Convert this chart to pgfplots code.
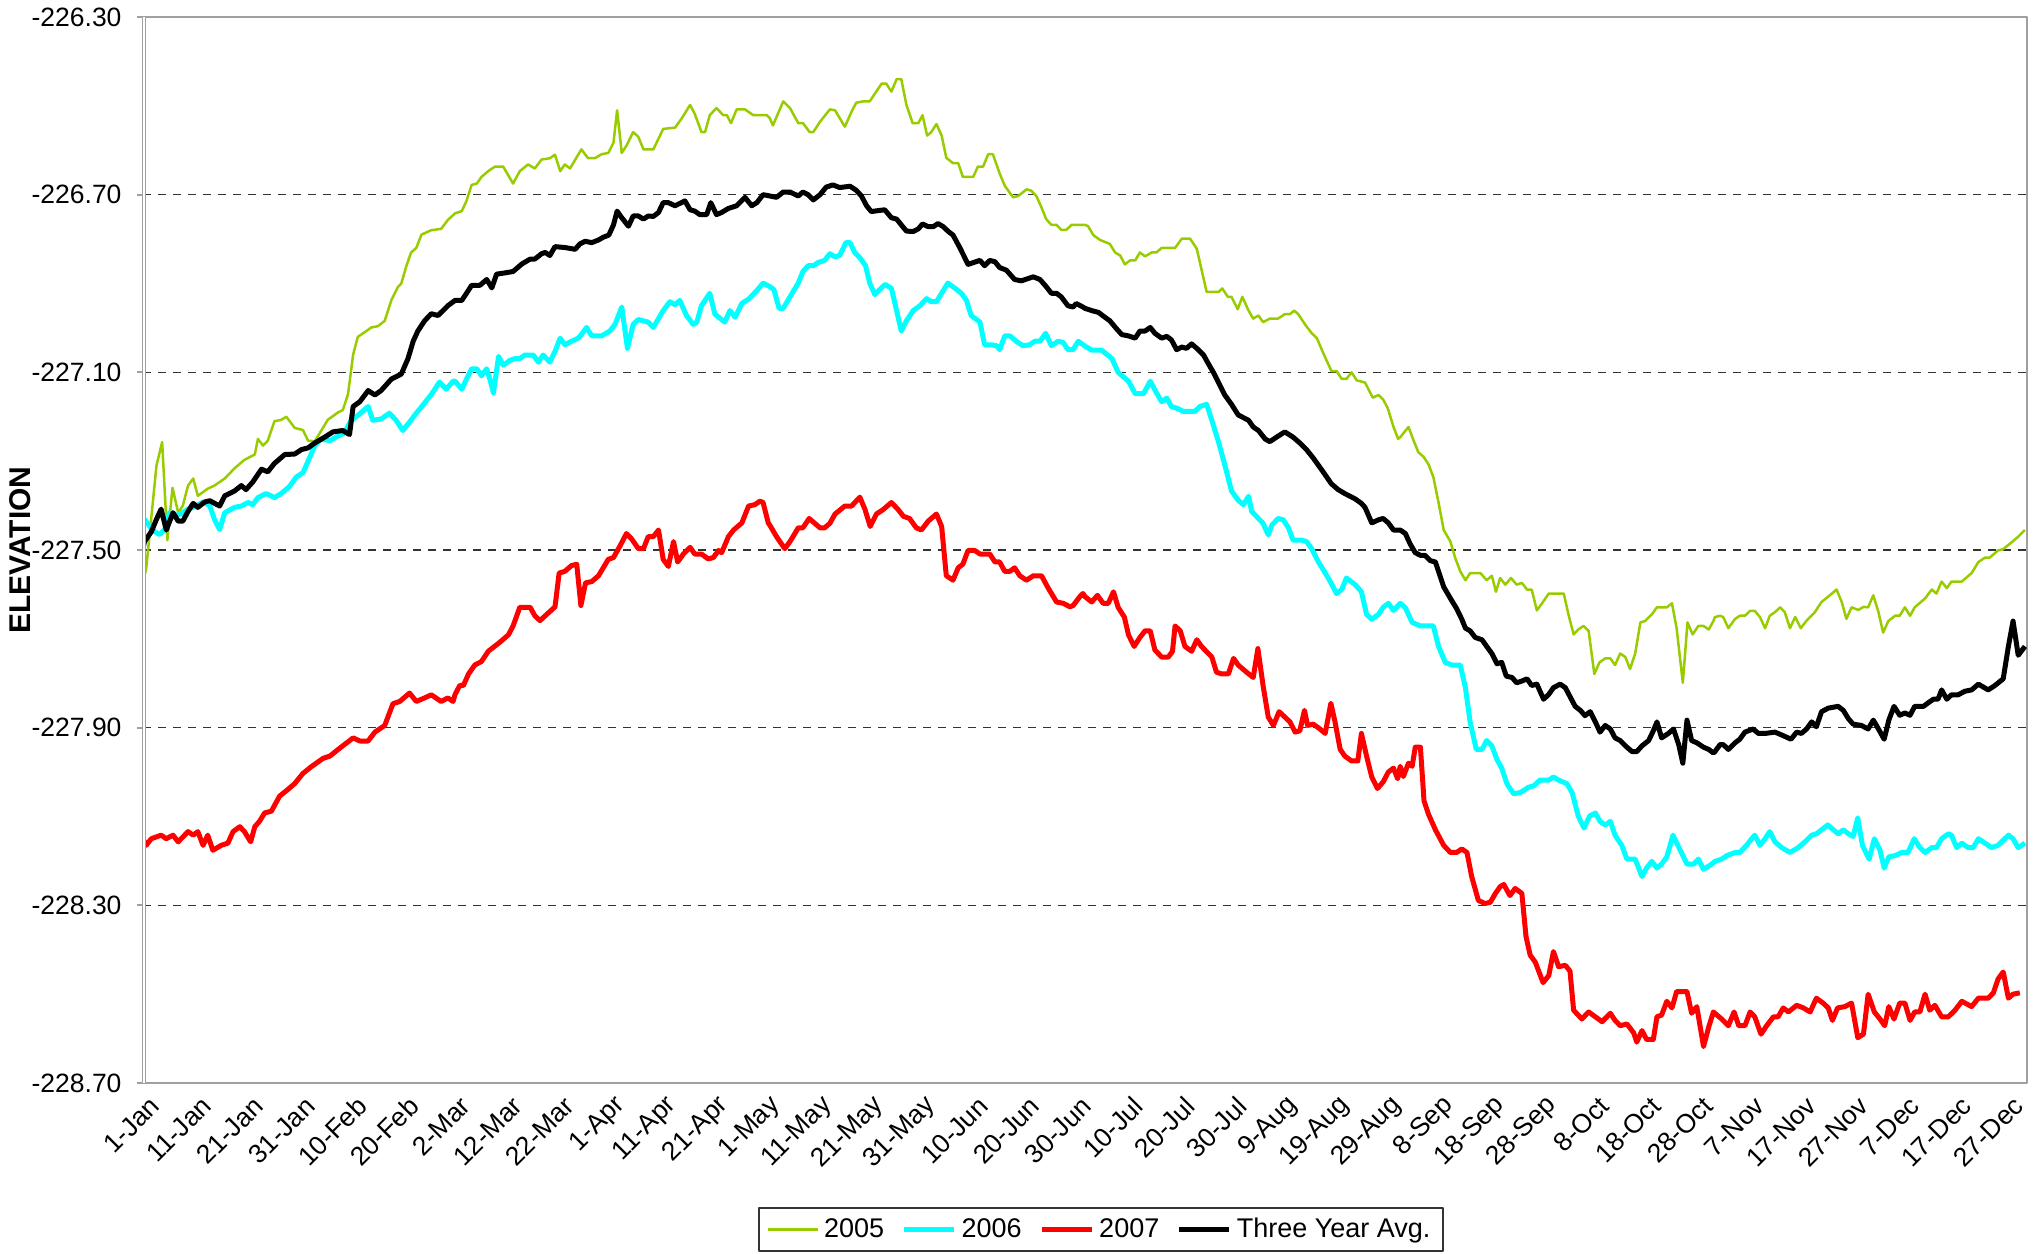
\documentclass[border=0pt]{standalone}
\usepackage{fontspec}
\setmainfont{Liberation Sans}
\usepackage{pgfplots}
\pgfplotsset{compat=1.18}
\definecolor{c2005}{RGB}{153,204,0}
\definecolor{c2006}{RGB}{0,255,255}
\definecolor{c2007}{RGB}{255,0,0}
\definecolor{framegray}{RGB}{160,160,160}
\begin{document}
\begin{tikzpicture}
\useasboundingbox (-57.2pt,-68pt) rectangle (758pt,433.2pt);
\begin{axis}[
  at={(0pt,0pt)}, anchor=south west,
  scale only axis, width=753.6pt, height=426.4pt,
  xmin=1, xmax=365, ymin=-228.7, ymax=-226.3,
  axis line style={draw=framegray, line width=0.9pt},
  xtick={1,11,...,361},
  xticklabels={1-Jan,11-Jan,21-Jan,31-Jan,10-Feb,20-Feb,2-Mar,12-Mar,22-Mar,1-Apr,11-Apr,21-Apr,1-May,11-May,21-May,31-May,10-Jun,20-Jun,30-Jun,10-Jul,20-Jul,30-Jul,9-Aug,19-Aug,29-Aug,8-Sep,18-Sep,28-Sep,8-Oct,18-Oct,28-Oct,7-Nov,17-Nov,27-Nov,7-Dec,17-Dec,27-Dec},
  ytick={-228.7,-228.3,-227.9,-227.5,-227.1,-226.7,-226.3},
  yticklabels={-228.70,-228.30,-227.90,-227.50,-227.10,-226.70,-226.30},
  ymajorgrids,
  grid style={black!80, dash pattern=on 3.2pt off 2.8pt, line width=0.45pt},
  tick align=outside,
  ytick pos=left, xtick pos=bottom,
  major tick length=2.4pt,
  ytick style={draw=framegray, line width=0.8pt},
  xtick style={draw=none},
  tick label style={font=\fontsize{10.6}{12}\selectfont},
  yticklabel style={anchor=east, inner sep=0pt, xshift=-6pt},
  xticklabel style={rotate=45, anchor=east, inner sep=0pt, yshift=-7pt},
  ylabel={\bfseries ELEVATION},
  every axis y label/.style={at={(axis description cs:-0.0653,0.5)}, rotate=90, anchor=center, font=\fontsize{12}{14}\selectfont},
  legend columns=4,
  legend style={at={(0.5085,-0.1374)}, anchor=center, draw=black!80, line width=0.6pt,
    font=\fontsize{10.8}{13}\selectfont, inner xsep=3pt, inner ysep=2pt,
    /tikz/every even column/.append style={column sep=5pt}},
  legend image code/.code={\draw[#1] (0pt,0pt) -- (20pt,0pt);},
  line join=round,
]
\addplot[c2005, line width=1pt] coordinates {
(1,-227.57)(1.6,-227.543)(2.6,-227.428)(3.6,-227.31)(4.7,-227.257)(5.7,-227.478)(6.7,-227.36)(7.8,-227.416)(8.7,-227.40)(9.7,-227.355)(10.7,-227.339)(11.6,-227.378)(13.5,-227.362)(14.8,-227.355)(16.8,-227.339)(18.7,-227.316)(20.6,-227.297)(22.6,-227.285)(23.2,-227.25)(24.2,-227.265)(25.1,-227.254)(26.4,-227.21)(27.7,-227.207)(28.7,-227.20)(30.3,-227.225)(31.9,-227.23)(32.9,-227.254)(34.2,-227.255)(36.7,-227.207)(38.7,-227.19)(39.6,-227.185)(40.6,-227.15)(41.6,-227.06)(42.5,-227.02)(43.8,-227.01)(45.1,-226.999)(46.4,-226.996)(47.7,-226.984)(49,-226.937)(50.3,-226.907)(50.9,-226.90)(51.9,-226.86)(52.8,-226.83)(53.8,-226.82)(54.8,-226.79)(56.7,-226.78)(58.6,-226.777)(59.9,-226.757)
(61.3,-226.742)(62.6,-226.737)(63.5,-226.714)(64.5,-226.678)(65.5,-226.675)(66.4,-226.66)(67.7,-226.647)(69,-226.637)(70.6,-226.637)(71.6,-226.657)(72.5,-226.675)(73.8,-226.647)(75.4,-226.632)(76.7,-226.641)(78,-226.621)(79.6,-226.618)(80.6,-226.61)(81.6,-226.647)(82.5,-226.632)(83.5,-226.641)(85.7,-226.598)(87,-226.618)(88.3,-226.618)(89.6,-226.609)(90.9,-226.606)(91.9,-226.583)(92.6,-226.51)(93.5,-226.606)(94.4,-226.59)(95.7,-226.559)(96.7,-226.57)(97.7,-226.598)(99.6,-226.598)(101.5,-226.552)(103.8,-226.549)(105.1,-226.528)(106.7,-226.498)(107.6,-226.518)(108.9,-226.559)(109.6,-226.559)(110.5,-226.521)(111.8,-226.505)(113.1,-226.521)(113.8,-226.521)(114.6,-226.539)(115.7,-226.508)(117.3,-226.508)(118.9,-226.521)(121.5,-226.521)
(122.1,-226.528)(122.7,-226.544)(124.7,-226.49)(126,-226.505)(127.6,-226.539)(128.5,-226.539)(129.8,-226.559)(130.5,-226.559)(131.8,-226.536)(133.7,-226.508)(134.7,-226.51)(136.6,-226.547)(137.9,-226.513)(138.8,-226.493)(140.1,-226.49)(141.4,-226.49)(143.7,-226.45)(144.6,-226.45)(145.6,-226.468)(146.6,-226.44)(147.5,-226.44)(148.5,-226.498)(149.7,-226.539)(150.8,-226.539)(151.6,-226.521)(152.5,-226.567)(153.3,-226.559)(154.3,-226.541)(155.3,-226.567)(156.2,-226.617)(157.5,-226.629)(158.5,-226.629)(159.4,-226.66)(161.4,-226.66)(162.3,-226.637)(163.3,-226.637)(164.3,-226.609)(165.2,-226.609)(166.5,-226.652)(167.5,-226.68)(169.1,-226.706)(170.1,-226.703)(171.7,-226.688)(172.6,-226.691)(173.6,-226.703)(174.6,-226.729)(175.5,-226.755)(176.5,-226.768)(177.5,-226.768)(178.4,-226.779)(179.4,-226.779)(180.4,-226.768)(182.6,-226.768)
(183,-226.768)(183.6,-226.771)(184.6,-226.791)(185.9,-226.802)(187.2,-226.808)(187.8,-226.811)(188.8,-226.83)(189.8,-226.837)(190.7,-226.857)(191.7,-226.848)(192.7,-226.848)(193.6,-226.83)(194.6,-226.839)(195.9,-226.83)(196.8,-226.83)(197.8,-226.82)(200.4,-226.82)(201.7,-226.799)(203.3,-226.799)(204.6,-226.822)(205.5,-226.868)(206.5,-226.919)(207.5,-226.919)(208.8,-226.919)(209.5,-226.911)(210.6,-226.93)(211.3,-226.93)(212.5,-226.958)(213.4,-226.93)(214.6,-226.961)(215.5,-226.979)(216.5,-226.972)(217.4,-226.987)(218.7,-226.979)(220.3,-226.979)(221.6,-226.969)(222.6,-226.969)(223.4,-226.961)(224.2,-226.969)(225.5,-226.992)(226.8,-227.012)(227.8,-227.023)(229,-227.056)(230.6,-227.097)(231.6,-227.097)(232.6,-227.115)(233.5,-227.115)(234.5,-227.1)(235.5,-227.118)(237.1,-227.123)(238.6,-227.157)(239.7,-227.151)(240.6,-227.161)(241.5,-227.181)(242.6,-227.223)(243.5,-227.25)
(243.9,-227.246)(245.5,-227.223)(246.5,-227.254)(247.4,-227.28)(248.4,-227.29)(249.4,-227.308)(250.3,-227.336)(251.3,-227.393)(252.3,-227.455)(253.6,-227.481)(254.5,-227.517)(255.5,-227.548)(256.5,-227.568)(257.4,-227.552)(259.4,-227.552)(260.6,-227.568)(261.6,-227.558)(262.4,-227.594)(263.2,-227.563)(264.2,-227.578)(265.3,-227.563)(266.4,-227.578)(267.4,-227.574)(268.4,-227.589)(269.3,-227.589)(270.3,-227.636)(271.3,-227.62)(272.6,-227.598)(275.5,-227.598)(276.4,-227.645)(277.4,-227.69)(278.3,-227.679)(279.3,-227.671)(280.3,-227.682)(281.4,-227.779)(282.4,-227.753)(283.5,-227.744)(284.5,-227.744)(285.4,-227.759)(286.4,-227.733)(287.4,-227.741)(288.3,-227.768)(289.3,-227.733)(290.3,-227.663)(291.2,-227.66)(292.5,-227.645)(293.5,-227.629)(295.4,-227.629)(296.4,-227.62)(297.3,-227.676)(298.5,-227.799)(299.4,-227.663)(300.4,-227.69)(301.5,-227.671)(302.5,-227.671)(303.5,-227.679)(304.4,-227.66)
(304.7,-227.651)(305.7,-227.648)(306.3,-227.651)(307.3,-227.676)(308.6,-227.655)(309.5,-227.648)(310.5,-227.648)(311.5,-227.637)(312.4,-227.637)(313.4,-227.651)(314.4,-227.676)(315.3,-227.648)(316.3,-227.64)(317.3,-227.629)(318.2,-227.64)(319.2,-227.676)(320.2,-227.651)(321.3,-227.676)(322.4,-227.659)(324,-227.64)(325.3,-227.617)(326.9,-227.602)(328.2,-227.589)(329.2,-227.617)(330.1,-227.655)(331.1,-227.629)(332.4,-227.635)(333.4,-227.628)(334.3,-227.629)(335.3,-227.602)(336.3,-227.64)(337.2,-227.686)(338.2,-227.66)(339.5,-227.648)(340.4,-227.648)(341.4,-227.629)(342.4,-227.648)(343.3,-227.629)(345.3,-227.609)(346.6,-227.589)(347.5,-227.598)(348.5,-227.571)(349.5,-227.586)(350.4,-227.571)(352.4,-227.571)(354.3,-227.552)(355.6,-227.527)(356.9,-227.517)(357.8,-227.517)(359.4,-227.501)(360.4,-227.498)(362,-227.483)(363.3,-227.47)(364.6,-227.455)
};
\addlegendentry{2005}
\addplot[c2006, line width=2pt] coordinates {
(1,-227.447)(1.3,-227.431)(2.3,-227.447)(3.3,-227.459)(4.2,-227.465)(5.2,-227.454)(6.1,-227.416)(7.1,-227.423)(8.4,-227.418)(9.7,-227.408)(10.9,-227.403)(12.6,-227.392)(13.9,-227.4)(14.8,-227.431)(15.8,-227.454)(16.8,-227.416)(18.7,-227.404)(20,-227.401)(21.3,-227.393)(22.2,-227.398)(23.2,-227.382)(24.8,-227.373)(26.4,-227.382)(27.7,-227.373)(29.3,-227.357)(30.6,-227.336)(31.9,-227.326)(32.9,-227.3)(34.2,-227.265)(35.4,-227.25)(37.1,-227.254)(38.7,-227.243)(39.9,-227.237)(41.2,-227.208)(42.5,-227.197)(44.5,-227.177)(45.4,-227.208)(47,-227.205)(48.6,-227.192)(49.9,-227.208)(51.2,-227.231)(52.5,-227.212)(53.8,-227.192)(55.4,-227.169)(56.7,-227.15)(58.3,-227.122)(59.6,-227.138)(60.9,-227.12)
(61.3,-227.12)(62.6,-227.138)(63.5,-227.115)(64.5,-227.092)(65.5,-227.092)(66.4,-227.108)(67.4,-227.092)(68,-227.115)(68.7,-227.146)(69.7,-227.064)(70.6,-227.084)(71.9,-227.073)(72.9,-227.069)(73.8,-227.069)(74.8,-227.061)(76.4,-227.061)(77.4,-227.077)(78.3,-227.061)(79.6,-227.077)(80.6,-227.053)(81.6,-227.023)(82.5,-227.038)(83.8,-227.03)(85.1,-227.023)(85.7,-227.015)(86.7,-226.999)(87.7,-227.018)(89.6,-227.018)(91.2,-227.007)(92.2,-226.992)(93.5,-226.953)(94.6,-227.046)(95.7,-226.992)(96.7,-226.981)(98.6,-226.987)(99.6,-226.999)(101.5,-226.961)(102.8,-226.941)(103.8,-226.948)(104.7,-226.938)(106,-226.972)(107.3,-226.992)(108,-226.987)(108.9,-226.95)(110.5,-226.922)(111.5,-226.969)(113.4,-226.987)(114.4,-226.961)(115.4,-226.976)(116.7,-226.945)(118,-226.935)(119.6,-226.916)(120.8,-226.899)
(122.1,-226.907)(122.9,-226.914)(123.9,-226.956)(124.7,-226.956)(126,-226.93)(127.6,-226.899)(128.5,-226.873)(129.5,-226.86)(130.5,-226.86)(131.4,-226.853)(132.7,-226.848)(133.7,-226.833)(134.7,-226.84)(135.6,-226.837)(136.8,-226.808)(137.6,-226.808)(138.5,-226.83)(139.5,-226.842)(140.6,-226.86)(141.4,-226.899)(142.4,-226.925)(143.3,-226.914)(144.4,-226.902)(145.6,-226.911)(146.6,-226.961)(147.5,-227.007)(148.5,-226.984)(149.8,-226.961)(151.1,-226.95)(152.4,-226.934)(153.3,-226.941)(154.3,-226.941)(155.3,-226.922)(156.5,-226.899)(157.8,-226.91)(159.1,-226.922)(160.1,-226.938)(161,-226.972)(162.7,-226.987)(163.6,-227.038)(164.9,-227.038)(165.9,-227.04)(166.5,-227.049)(167.5,-227.018)(168.5,-227.018)(169.7,-227.03)(171,-227.04)(172.3,-227.038)(173.3,-227.03)(174.3,-227.03)(175.4,-227.012)(176.5,-227.04)(177.8,-227.03)(178.8,-227.033)(179.7,-227.049)(180.7,-227.049)(181.7,-227.03)
(183,-227.041)(184.3,-227.05)(186.2,-227.05)(188.2,-227.069)(189.4,-227.1)(191.4,-227.12)(192.7,-227.148)(194.3,-227.148)(195.6,-227.12)(196.8,-227.146)(197.8,-227.166)(198.8,-227.158)(199.7,-227.177)(201,-227.182)(202,-227.188)(204.2,-227.188)(205.2,-227.177)(206.5,-227.172)(207.5,-227.208)(208.8,-227.257)(210,-227.308)(211.3,-227.367)(212.6,-227.388)(213.6,-227.398)(214.6,-227.379)(215.2,-227.413)(216.5,-227.429)(217.4,-227.44)(218.4,-227.466)(219.1,-227.444)(220.3,-227.429)(221.3,-227.432)(222.3,-227.45)(223.2,-227.478)(224.9,-227.478)(225.8,-227.481)(226.8,-227.497)(228.1,-227.527)(230,-227.563)(231.6,-227.598)(232.6,-227.589)(233.5,-227.563)(235.2,-227.578)(236.4,-227.594)(237.4,-227.645)(238.4,-227.656)(239.7,-227.645)(240.6,-227.629)(241.6,-227.62)(242.6,-227.636)
(243.9,-227.62)(244.9,-227.63)(246.2,-227.663)(247.8,-227.671)(250.3,-227.671)(251.3,-227.717)(252.6,-227.753)(253.9,-227.759)(255.5,-227.759)(256.5,-227.81)(257.4,-227.887)(258.6,-227.949)(259.7,-227.949)(260.6,-227.929)(261.6,-227.941)(262.6,-227.972)(263.5,-227.991)(264.5,-228.026)(265.8,-228.049)(267.1,-228.046)(268.7,-228.034)(269.7,-228.031)(270.9,-228.018)(272.6,-228.018)(273.5,-228.011)(274.5,-228.018)(276.1,-228.026)(277.1,-228.046)(278.3,-228.099)(279.4,-228.126)(280.5,-228.099)(281.6,-228.092)(282.5,-228.111)(283.5,-228.119)(284.5,-228.111)(285.4,-228.142)(286.7,-228.165)(287.7,-228.196)(289.3,-228.196)(290.6,-228.235)(291.5,-228.216)(292.5,-228.201)(293.5,-228.216)(294.4,-228.207)(295.4,-228.191)(296.6,-228.142)(298,-228.176)(299.3,-228.207)(300.6,-228.207)(301.5,-228.196)(302.5,-228.219)(304.1,-228.207)
(304.7,-228.201)(306,-228.196)(307,-228.188)(308.6,-228.181)(309.5,-228.181)(310.8,-228.165)(311.8,-228.15)(312.4,-228.142)(313.4,-228.165)(314.4,-228.15)(315.3,-228.134)(316.3,-228.157)(317.6,-228.17)(319.2,-228.181)(320.8,-228.17)(322.1,-228.157)(323.4,-228.142)(324.3,-228.139)(325.3,-228.13)(326.5,-228.119)(327.6,-228.13)(328.5,-228.139)(329.5,-228.13)(330.5,-228.139)(331.4,-228.145)(332.3,-228.103)(333.2,-228.165)(334.5,-228.196)(335.5,-228.15)(336.6,-228.176)(337.4,-228.216)(338.3,-228.191)(339.5,-228.188)(340.8,-228.181)(342,-228.181)(343.2,-228.15)(344.3,-228.17)(345.3,-228.181)(346.6,-228.17)(347.5,-228.17)(348.5,-228.15)(349.8,-228.139)(350.4,-228.142)(351.4,-228.17)(352.4,-228.16)(353.6,-228.17)(354.6,-228.17)(355.6,-228.15)(356.9,-228.16)(358.1,-228.17)(359.4,-228.165)(361.4,-228.142)(362.3,-228.15)(363.3,-228.17)(364.6,-228.16)
};
\addlegendentry{2006}
\addplot[c2007, line width=2pt] coordinates {
(1,-228.15)(1.6,-228.165)(2.6,-228.15)(4.5,-228.142)(5.5,-228.15)(6.8,-228.142)(7.8,-228.157)(9.7,-228.134)(10.7,-228.142)(11.6,-228.134)(12.6,-228.165)(13.5,-228.142)(14.5,-228.176)(16.1,-228.165)(17.4,-228.16)(18.4,-228.134)(19.7,-228.123)(20.6,-228.134)(21.8,-228.157)(22.6,-228.123)(23.5,-228.111)(24.5,-228.092)(25.8,-228.088)(27.4,-228.054)(28.7,-228.042)(30.3,-228.026)(31.9,-228.003)(33.5,-227.988)(35.8,-227.969)(37.1,-227.964)(38.7,-227.949)(41.6,-227.923)(42.9,-227.93)(44.5,-227.93)(45.8,-227.91)(47.7,-227.895)(49.3,-227.846)(50.6,-227.841)(52.5,-227.822)(53.8,-227.841)(55.4,-227.833)(56.7,-227.826)(58.6,-227.841)(59.9,-227.833)(60.9,-227.841)
(61.3,-227.825)(62.2,-227.805)(62.9,-227.805)(63.9,-227.779)(65.1,-227.759)(66.4,-227.751)(67.7,-227.728)(69.7,-227.71)(71.6,-227.691)(72.5,-227.671)(73.8,-227.629)(75.8,-227.629)(76.7,-227.648)(77.7,-227.659)(79,-227.645)(80.6,-227.628)(81.4,-227.552)(82.5,-227.548)(83.8,-227.535)(84.8,-227.532)(85.6,-227.625)(86.5,-227.574)(87.7,-227.571)(89,-227.558)(90.9,-227.521)(91.9,-227.517)(93.2,-227.49)(94.4,-227.463)(95.4,-227.475)(96.7,-227.497)(97.7,-227.497)(98.6,-227.47)(99.6,-227.47)(100.6,-227.455)(101.5,-227.521)(102.5,-227.537)(103.5,-227.481)(104.3,-227.527)(105.4,-227.509)(106.7,-227.494)(107.6,-227.509)(108.9,-227.509)(110.2,-227.52)(111.2,-227.517)(112.2,-227.501)(112.8,-227.506)(114.1,-227.47)(115.1,-227.455)(116.7,-227.439)(118,-227.401)(119.2,-227.398)(120.2,-227.39)(120.8,-227.393)(121.8,-227.439)
(122.1,-227.444)(123.4,-227.47)(125,-227.497)(126,-227.481)(127.6,-227.45)(128.5,-227.45)(129.7,-227.429)(130.8,-227.44)(131.8,-227.45)(132.7,-227.45)(133.7,-227.44)(134.7,-227.419)(136.6,-227.401)(137.9,-227.401)(139.5,-227.381)(140.5,-227.409)(141.5,-227.447)(142.7,-227.419)(144,-227.409)(145.6,-227.393)(146.9,-227.409)(147.9,-227.424)(149.1,-227.429)(150.4,-227.45)(151.4,-227.455)(152.7,-227.435)(154.3,-227.419)(155.3,-227.447)(156.2,-227.558)(157.5,-227.568)(158.5,-227.54)(159.4,-227.532)(160.4,-227.501)(161.7,-227.501)(162.7,-227.509)(164.6,-227.509)(165.6,-227.527)(166.5,-227.527)(167.5,-227.548)(168.5,-227.548)(169.4,-227.54)(170.4,-227.558)(171.7,-227.568)(173,-227.558)(174.6,-227.558)(175.9,-227.586)(177.5,-227.617)(178.8,-227.62)(180.1,-227.628)(180.7,-227.625)(182,-227.605)(182.6,-227.598)
(183,-227.605)(184.3,-227.617)(185.4,-227.602)(186.5,-227.62)(187.5,-227.62)(188.5,-227.594)(189.4,-227.629)(190.6,-227.651)(191.4,-227.691)(192.5,-227.717)(193.6,-227.697)(194.6,-227.682)(195.6,-227.682)(196.5,-227.725)(197.8,-227.741)(199.1,-227.741)(199.9,-227.728)(200.4,-227.671)(201.4,-227.682)(202.3,-227.717)(203.6,-227.728)(204.6,-227.702)(205.5,-227.717)(207.5,-227.741)(208.4,-227.775)(209.4,-227.779)(210.7,-227.779)(211.7,-227.744)(212.6,-227.759)(214.2,-227.775)(215.5,-227.787)(216.4,-227.722)(217.4,-227.805)(218.4,-227.876)(219.4,-227.895)(220.5,-227.864)(221.6,-227.876)(222.6,-227.887)(223.6,-227.91)(224.5,-227.907)(225.4,-227.861)(226,-227.895)(227.1,-227.892)(228.4,-227.903)(229.4,-227.913)(230.5,-227.845)(231.3,-227.887)(232.3,-227.949)(233.2,-227.964)(234.5,-227.975)(235.7,-227.975)(236.4,-227.913)(237.4,-227.964)(238.4,-228.011)(239.5,-228.037)(240.6,-228.022)(241.6,-228.0)(242.6,-227.991)(243.4,-228.015)
(243.9,-227.987)(244.5,-228.01)(245.5,-227.98)(246.2,-227.987)(246.8,-227.944)(247.8,-227.944)(248.5,-228.065)(249.4,-228.096)(250.7,-228.13)(252.3,-228.165)(253.6,-228.181)(254.8,-228.181)(255.8,-228.173)(256.8,-228.181)(257.7,-228.235)(259,-228.289)(260.3,-228.296)(261.3,-228.293)(262.3,-228.273)(263.2,-228.258)(263.9,-228.253)(265.1,-228.278)(266.1,-228.262)(267.4,-228.273)(268.2,-228.37)(269,-228.412)(270,-228.428)(271.5,-228.474)(272.6,-228.458)(273.5,-228.404)(274.5,-228.438)(275.8,-228.435)(276.7,-228.448)(277.4,-228.536)(279,-228.556)(280.3,-228.54)(281.6,-228.551)(282.9,-228.562)(284.5,-228.543)(285.4,-228.559)(286.4,-228.571)(287.7,-228.567)(289,-228.587)(289.6,-228.608)(290.6,-228.582)(291.5,-228.602)(292.8,-228.602)(293.5,-228.551)(294.4,-228.547)(295.4,-228.516)(296.4,-228.531)(297.3,-228.494)(299.3,-228.494)(300.2,-228.543)(301.2,-228.528)(302.5,-228.618)(303.5,-228.574)(304.4,-228.54)
(304.7,-228.543)(306,-228.556)(307.3,-228.571)(308.4,-228.54)(309.3,-228.571)(310.5,-228.571)(311.5,-228.54)(312.4,-228.551)(313.6,-228.59)(314.7,-228.571)(316,-228.551)(316.9,-228.551)(317.9,-228.531)(318.9,-228.54)(320.5,-228.525)(321.8,-228.531)(323.1,-228.54)(324.3,-228.509)(325.6,-228.52)(326.6,-228.531)(327.4,-228.559)(328.4,-228.531)(329.8,-228.528)(331.1,-228.52)(332.3,-228.598)(333.4,-228.59)(334.3,-228.5)(335.5,-228.54)(336.6,-228.556)(337.5,-228.571)(338.3,-228.528)(339.3,-228.556)(340.4,-228.52)(341.4,-228.52)(342.4,-228.559)(343.3,-228.54)(344.3,-228.54)(345.3,-228.5)(346.2,-228.536)(347.2,-228.525)(348.5,-228.551)(349.8,-228.551)(351.1,-228.536)(352.4,-228.516)(354.3,-228.528)(355.6,-228.509)(357.5,-228.509)(358.5,-228.497)(359.4,-228.466)(360.4,-228.45)(361.4,-228.509)(362.3,-228.5)(363.6,-228.497)
};
\addlegendentry{2007}
\addplot[black, line width=2pt] coordinates {
(1,-227.496)(1.3,-227.481)(2.6,-227.459)(3.6,-227.431)(4.5,-227.408)(5.5,-227.455)(6.8,-227.416)(7.8,-227.435)(8.7,-227.435)(9.7,-227.413)(10.7,-227.395)(11.6,-227.404)(12.9,-227.392)(13.9,-227.389)(15.8,-227.401)(16.8,-227.378)(18.7,-227.367)(20,-227.355)(20.9,-227.364)(22.2,-227.347)(23.9,-227.318)(25.1,-227.324)(26.4,-227.305)(28.4,-227.285)(30.3,-227.284)(31.6,-227.274)(32.9,-227.27)(34.2,-227.259)(36.1,-227.246)(37.7,-227.234)(39.6,-227.231)(40.9,-227.24)(41.6,-227.177)(42.9,-227.166)(44.5,-227.141)(45.8,-227.151)(47,-227.141)(49,-227.115)(50.9,-227.104)(52.2,-227.069)(53.2,-227.03)(54.1,-227.007)(55.4,-226.984)(56.7,-226.968)(58,-226.972)(59.9,-226.95)
(61.3,-226.938)(62.6,-226.938)(63.5,-226.922)(64.5,-226.904)(66.1,-226.904)(67.4,-226.891)(68.4,-226.91)(69.3,-226.879)(71,-226.876)(72.5,-226.873)(74.2,-226.856)(75.8,-226.845)(76.7,-226.845)(78,-226.833)(78.7,-226.83)(79.6,-226.837)(80.6,-226.817)(82.5,-226.819)(84.5,-226.823)(85.4,-226.811)(86.4,-226.805)(87.7,-226.808)(89,-226.802)(89.9,-226.796)(91,-226.791)(91.9,-226.768)(92.6,-226.737)(93.5,-226.752)(94.8,-226.771)(95.7,-226.748)(96.7,-226.748)(97.7,-226.755)(98.6,-226.748)(99.6,-226.749)(100.6,-226.74)(101.5,-226.718)(102.5,-226.718)(103.8,-226.725)(105.7,-226.714)(106.7,-226.734)(107.6,-226.737)(108.6,-226.745)(109.9,-226.745)(110.7,-226.718)(111.8,-226.745)(112.8,-226.74)(114.1,-226.731)(115.7,-226.725)(117.3,-226.706)(118.6,-226.725)(119.6,-226.718)(120.8,-226.7)
(122.1,-226.703)(123.4,-226.706)(124.7,-226.694)(126,-226.694)(127.6,-226.703)(128.5,-226.694)(129.5,-226.7)(130.5,-226.712)(131.8,-226.7)(133,-226.683)(134.3,-226.678)(135.6,-226.684)(137.6,-226.681)(138.8,-226.69)(139.8,-226.703)(140.8,-226.725)(141.7,-226.738)(144.3,-226.734)(145.6,-226.752)(146.6,-226.755)(147.5,-226.768)(148.5,-226.782)(149.8,-226.783)(150.8,-226.777)(151.6,-226.766)(152.7,-226.772)(153.7,-226.772)(154.6,-226.765)(155.6,-226.772)(156.6,-226.783)(157.5,-226.791)(158.8,-226.819)(160.4,-226.857)(161.4,-226.853)(162.7,-226.848)(163.6,-226.86)(164.6,-226.848)(165.6,-226.851)(166.5,-226.864)(167.8,-226.87)(169.4,-226.891)(170.7,-226.894)(173,-226.885)(174.3,-226.891)(175.5,-226.907)(176.5,-226.922)(177.5,-226.922)(178.4,-226.93)(179.7,-226.95)(180.7,-226.953)(181.3,-226.945)(182.6,-226.953)
(183,-226.956)(184.3,-226.961)(185.6,-226.965)(186.5,-226.973)(187.8,-226.984)(189.1,-227.002)(190.1,-227.015)(191.4,-227.018)(192.7,-227.023)(193.6,-227.007)(194.6,-227.007)(195.6,-226.999)(196.5,-227.012)(197.8,-227.023)(198.8,-227.019)(199.7,-227.027)(200.7,-227.049)(201.7,-227.043)(202.6,-227.046)(203.6,-227.036)(204.6,-227.046)(205.9,-227.061)(206.8,-227.08)(207.8,-227.1)(208.8,-227.123)(210,-227.151)(211.3,-227.172)(212.6,-227.196)(214.6,-227.208)(215.5,-227.223)(216.5,-227.231)(217.8,-227.25)(218.7,-227.256)(220,-227.246)(221.6,-227.234)(223.2,-227.246)(224.5,-227.259)(225.8,-227.274)(227.1,-227.293)(229,-227.324)(230.6,-227.351)(231.9,-227.364)(233.2,-227.373)(235.2,-227.385)(236.4,-227.395)(237.1,-227.404)(238.4,-227.439)(239.7,-227.432)(240.6,-227.429)(241.6,-227.439)(242.6,-227.455)
(243.9,-227.455)(244.9,-227.463)(245.8,-227.486)(246.8,-227.506)(247.8,-227.512)(248.7,-227.512)(249.7,-227.524)(250.7,-227.527)(251.3,-227.548)(252.3,-227.583)(253.6,-227.609)(254.8,-227.632)(255.8,-227.656)(256.5,-227.676)(257.4,-227.682)(258.4,-227.697)(259.7,-227.702)(260.6,-227.717)(261.6,-227.733)(262.6,-227.756)(263.5,-227.753)(264.4,-227.784)(265.5,-227.787)(266.4,-227.799)(267.4,-227.795)(268.4,-227.79)(269.3,-227.805)(270.3,-227.802)(271.6,-227.836)(272.6,-227.825)(273.5,-227.81)(274.8,-227.802)(275.8,-227.81)(276.7,-227.83)(277.7,-227.852)(278.7,-227.861)(279.6,-227.873)(280.6,-227.864)(281.6,-227.887)(282.5,-227.91)(283.5,-227.895)(284.5,-227.903)(285.4,-227.923)(286.4,-227.929)(287.7,-227.944)(288.7,-227.954)(289.6,-227.954)(290.6,-227.941)(291.9,-227.929)(292.8,-227.907)(293.5,-227.887)(294.4,-227.923)(295.7,-227.913)(296.7,-227.903)(297.7,-227.938)(298.5,-227.98)(299.3,-227.883)(300.2,-227.929)(301.2,-227.934)(302.5,-227.944)(303.5,-227.949)(304.4,-227.957)
(304.7,-227.954)(305.7,-227.938)(306.3,-227.938)(307.3,-227.949)(308.6,-227.934)(309.5,-227.926)(310.5,-227.91)(312.1,-227.903)(313.1,-227.913)(314.4,-227.913)(316.3,-227.91)(317.9,-227.918)(319.4,-227.926)(320.5,-227.91)(321.4,-227.913)(322.4,-227.903)(323.4,-227.887)(324.3,-227.898)(325.3,-227.864)(326.6,-227.856)(328.5,-227.852)(329.5,-227.861)(330.5,-227.88)(331.4,-227.892)(333,-227.895)(334.3,-227.903)(335.3,-227.883)(336.3,-227.903)(337.4,-227.926)(338.3,-227.883)(339.3,-227.852)(340.4,-227.872)(341.4,-227.867)(342.4,-227.872)(343.3,-227.852)(345,-227.852)(345.9,-227.844)(346.9,-227.836)(347.8,-227.836)(348.5,-227.815)(349.5,-227.836)(350.4,-227.826)(351.7,-227.826)(353,-227.818)(354.3,-227.815)(355.6,-227.802)(357.5,-227.815)(358.8,-227.805)(360.4,-227.79)(361.4,-227.717)(362.3,-227.66)(363.3,-227.737)(364.6,-227.717)
};
\addlegendentry{Three Year Avg.}
\draw[framegray, double=white, double distance=1.2pt, line width=0.6pt] (rel axis cs:0,0) -- (rel axis cs:0,1);
\end{axis}
\end{tikzpicture}
\end{document}
